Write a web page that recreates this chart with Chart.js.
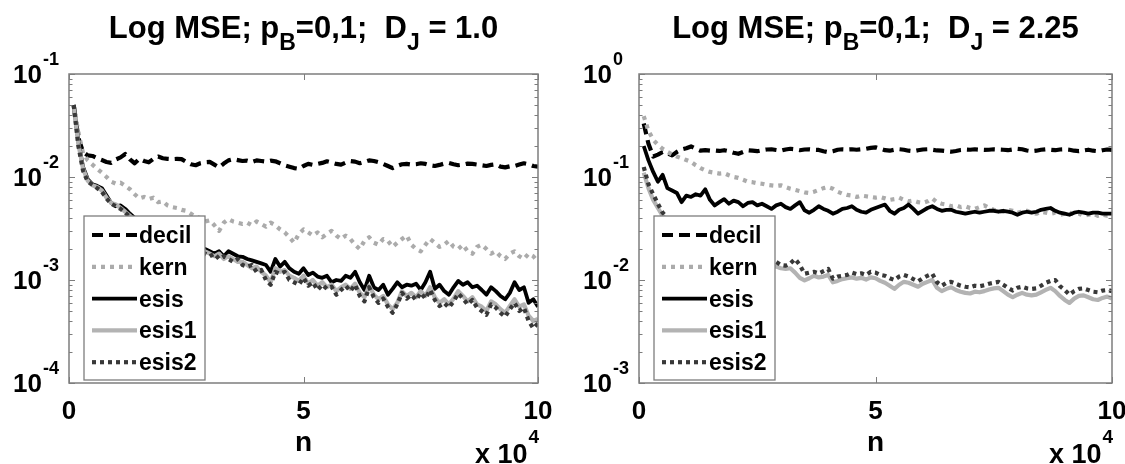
<!DOCTYPE html>
<html>
<head>
<meta charset="utf-8">
<script src="https://cdn.jsdelivr.net/npm/chart.js@4/dist/chart.umd.min.js"></script>
<style>
  html, body { margin: 0; padding: 0; background: #fff; overflow: hidden; }
  #wrap { position: relative; width: 1125px; height: 464px; }
  canvas { position: absolute; top: 0; }
  #left { left: 0; }
  #right { left: 562px; }
</style>
</head>
<body>
<div id="wrap">
  <canvas id="left" width="562" height="464"></canvas>
  <canvas id="right" width="563" height="464"></canvas>
</div>
<script>
// sample sizes n, in units of 10^4
const nGrid = [
  0.1, 0.2, 0.3, 0.4, 0.5, 0.6, 0.7, 0.8, 0.9, 1.0,
  1.1, 1.2, 1.3, 1.4, 1.5, 1.6, 1.7, 1.8, 1.9, 2.0,
  2.1, 2.2, 2.3, 2.4, 2.5, 2.6, 2.7, 2.8, 2.9, 3.0,
  3.1, 3.2, 3.3, 3.4, 3.5, 3.6, 3.7, 3.8, 3.9, 4.0,
  4.1, 4.2, 4.3, 4.4, 4.5, 4.6, 4.7, 4.8, 4.9, 5.0,
  5.1, 5.2, 5.3, 5.4, 5.5, 5.6, 5.7, 5.8, 5.9, 6.0,
  6.1, 6.2, 6.3, 6.4, 6.5, 6.6, 6.7, 6.8, 6.9, 7.0,
  7.1, 7.2, 7.3, 7.4, 7.5, 7.6, 7.7, 7.8, 7.9, 8.0,
  8.1, 8.2, 8.3, 8.4, 8.5, 8.6, 8.7, 8.8, 8.9, 9.0,
  9.1, 9.2, 9.3, 9.4, 9.5, 9.6, 9.7, 9.8, 9.9, 10.0
];

const seriesNames = ['decil', 'kern', 'esis', 'esis1', 'esis2'];

// ---- MSE, D_J = 1.0 ----
const decilA = [
  0.050, 0.024, 0.0175, 0.0162, 0.0160, 0.0152, 0.0146, 0.0140, 0.0137, 0.0148,
  0.0155, 0.0167, 0.0148, 0.0136, 0.0150, 0.0143, 0.0139, 0.0150, 0.0158, 0.0152,
  0.0150, 0.0149, 0.0150, 0.0149, 0.0140, 0.0133, 0.0130, 0.0136, 0.0139, 0.0140,
  0.0132, 0.0124, 0.0135, 0.0145, 0.0149, 0.0146, 0.0143, 0.0144, 0.0140, 0.0145,
  0.0143, 0.0141, 0.0144, 0.0142, 0.0136, 0.0130, 0.0126, 0.0122, 0.0120, 0.0128,
  0.0134, 0.0131, 0.0134, 0.0137, 0.0142, 0.0138, 0.0134, 0.0132, 0.0138, 0.0143,
  0.0141, 0.0136, 0.0140, 0.0145, 0.0143, 0.0139, 0.0134, 0.0128, 0.0122, 0.0128,
  0.0133, 0.0134, 0.0132, 0.0133, 0.0136, 0.0134, 0.0130, 0.0128, 0.0131, 0.0135,
  0.0137, 0.0133, 0.0130, 0.0132, 0.0135, 0.0134, 0.0132, 0.0130, 0.0128, 0.0131,
  0.0133, 0.0126, 0.0124, 0.0127, 0.0128, 0.0132, 0.0136, 0.0133, 0.0128, 0.0126
];
const kernA = [
  0.050, 0.027, 0.017, 0.0145, 0.0132, 0.0120, 0.0110, 0.0100, 0.0090, 0.0086,
  0.0088, 0.0082, 0.0076, 0.0068, 0.0062, 0.0064, 0.0061, 0.0063, 0.0057, 0.0058,
  0.0053, 0.0051, 0.0050, 0.0048, 0.0047, 0.0044, 0.0041, 0.0040, 0.0037, 0.0038,
  0.0034, 0.0030, 0.0036, 0.0039, 0.0037, 0.0036, 0.0035, 0.0036, 0.0034, 0.0037,
  0.0035, 0.0033, 0.0036, 0.0034, 0.0031, 0.0029, 0.0026, 0.0023, 0.0028, 0.0031,
  0.0029, 0.0027, 0.0029, 0.0026, 0.0028, 0.0030, 0.0027, 0.0025, 0.0027, 0.0025,
  0.0022, 0.0020, 0.0024, 0.0026, 0.0023, 0.0022, 0.0025, 0.0024, 0.0021, 0.0023,
  0.0025, 0.0027, 0.0022, 0.0020, 0.0019, 0.0022, 0.0025, 0.0023, 0.0021, 0.0022,
  0.0024, 0.0021, 0.0020, 0.0022, 0.0019, 0.0018, 0.0021, 0.0022, 0.0020, 0.0018,
  0.0019, 0.0017, 0.0016, 0.0018, 0.0019, 0.0017, 0.0016, 0.0018, 0.0017, 0.0015
];
const esisA = [
  0.050, 0.022, 0.0125, 0.0095, 0.0085, 0.0082, 0.0078, 0.0066, 0.0056, 0.0052,
  0.0053, 0.0049, 0.0044, 0.0040, 0.0037, 0.0035, 0.0033, 0.0031, 0.0030, 0.0028,
  0.0027, 0.0026, 0.0025, 0.0024, 0.0023, 0.0022, 0.0021, 0.0021, 0.0020, 0.0019,
  0.0018, 0.0019, 0.0017, 0.0019, 0.0018, 0.0017, 0.00168, 0.0016, 0.00155, 0.0015,
  0.00145, 0.0014, 0.0012, 0.0016, 0.00135, 0.0015, 0.0013, 0.0012, 0.00115, 0.0013,
  0.00112, 0.00118, 0.00108, 0.00105, 0.0011, 0.00095, 0.0010, 0.00098, 0.0011, 0.00105,
  0.0012, 0.00095, 0.0008, 0.0011, 0.00085, 0.0008, 0.0009, 0.00072, 0.00082, 0.00095,
  0.00085, 0.0009, 0.00088, 0.00092, 0.0008, 0.00095, 0.0012, 0.00082, 0.0009, 0.00078,
  0.00072, 0.00085, 0.00098, 0.0009, 0.00095, 0.00085, 0.00088, 0.0008, 0.00072, 0.00085,
  0.00078, 0.0007, 0.00065, 0.00075, 0.00095, 0.0008, 0.00085, 0.0006, 0.00065, 0.00055
];
const esis1A = [
  0.049, 0.021, 0.0120, 0.0092, 0.0083, 0.0080, 0.0074, 0.0063, 0.0056, 0.0054,
  0.0050, 0.0046, 0.0042, 0.0038, 0.0036, 0.0034, 0.0032, 0.0030, 0.0029, 0.0027,
  0.0026, 0.0025, 0.0024, 0.0023, 0.0022, 0.0021, 0.0020, 0.0020, 0.0019, 0.0018,
  0.0017, 0.0018, 0.0016, 0.0017, 0.0016, 0.0015, 0.0015, 0.0014, 0.0013, 0.00135,
  0.0012, 0.0011, 0.00095, 0.0013, 0.0012, 0.00125, 0.0011, 0.00105, 0.00098, 0.0011,
  0.00092, 0.0010, 0.00088, 0.00095, 0.00085, 0.0009, 0.00078, 0.00085, 0.0009, 0.00082,
  0.00092, 0.00075, 0.00068, 0.00088, 0.00072, 0.00065, 0.0007, 0.00058, 0.00052, 0.0006,
  0.00078, 0.0007, 0.00075, 0.00068, 0.00078, 0.0007, 0.00085, 0.00068, 0.0006, 0.00065,
  0.00058, 0.00066, 0.00078, 0.0007, 0.00062, 0.00068, 0.00058, 0.00055, 0.0005, 0.00062,
  0.00058, 0.00052, 0.00048, 0.00056, 0.00065, 0.00055, 0.00058, 0.00045, 0.0004, 0.00042
];
const esis2A = [
  0.050, 0.020, 0.0115, 0.0090, 0.0084, 0.0078, 0.0072, 0.0062, 0.0055, 0.0052,
  0.0049, 0.0045, 0.0041, 0.0037, 0.0035, 0.0033, 0.0031, 0.0029, 0.0028, 0.0026,
  0.0025, 0.0024, 0.0023, 0.0022, 0.0021, 0.0021, 0.0020, 0.0019, 0.0018, 0.0017,
  0.0018, 0.0016, 0.0017, 0.0016, 0.0015, 0.0016, 0.0014, 0.00135, 0.0014, 0.0012,
  0.00125, 0.0010, 0.0009, 0.0012, 0.00115, 0.0012, 0.0010, 0.00095, 0.0009, 0.00105,
  0.00088, 0.00095, 0.0008, 0.0009, 0.00082, 0.00086, 0.00072, 0.0008, 0.00088, 0.00078,
  0.0009, 0.0007, 0.00062, 0.00085, 0.00068, 0.0006, 0.00066, 0.00055, 0.00048, 0.00058,
  0.00075, 0.00066, 0.00072, 0.00064, 0.00075, 0.00066, 0.0008, 0.00064, 0.00056, 0.0006,
  0.00054, 0.00062, 0.00074, 0.00066, 0.00058, 0.00064, 0.00054, 0.0005, 0.00046, 0.00058,
  0.00054, 0.00048, 0.00044, 0.00052, 0.0006, 0.0005, 0.00054, 0.0004, 0.00034, 0.00038
];

// ---- MSE, D_J = 2.25 ----
const decilB = [
  0.33, 0.21, 0.158, 0.165, 0.175, 0.170, 0.162, 0.175, 0.185, 0.190,
  0.198, 0.188, 0.180, 0.182, 0.180, 0.181, 0.179, 0.182, 0.178, 0.172,
  0.168, 0.175, 0.182, 0.180, 0.178, 0.182, 0.185, 0.186, 0.183, 0.180,
  0.185, 0.188, 0.186, 0.182, 0.185, 0.186, 0.184, 0.183, 0.178, 0.174,
  0.178, 0.184, 0.186, 0.185, 0.186, 0.184, 0.186, 0.188, 0.192, 0.194,
  0.188, 0.182, 0.180, 0.184, 0.186, 0.184, 0.180, 0.178, 0.182, 0.185,
  0.186, 0.184, 0.181, 0.180, 0.178, 0.176, 0.179, 0.183, 0.185, 0.184,
  0.186, 0.184, 0.183, 0.184, 0.186, 0.185, 0.184, 0.182, 0.185, 0.188,
  0.186, 0.181, 0.178, 0.180, 0.184, 0.186, 0.184, 0.182, 0.185, 0.186,
  0.184, 0.180, 0.178, 0.181, 0.184, 0.180, 0.178, 0.182, 0.185, 0.183
];
const kernB = [
  0.39, 0.28, 0.23, 0.205, 0.188, 0.175, 0.166, 0.158, 0.152, 0.146,
  0.140, 0.130, 0.122, 0.116, 0.112, 0.110, 0.108, 0.109, 0.104, 0.100,
  0.098, 0.094, 0.090, 0.089, 0.087, 0.086, 0.084, 0.083, 0.082, 0.083,
  0.080, 0.077, 0.075, 0.073, 0.071, 0.070, 0.072, 0.075, 0.078, 0.080,
  0.077, 0.072, 0.069, 0.067, 0.066, 0.064, 0.066, 0.065, 0.064, 0.063,
  0.064, 0.062, 0.060, 0.061, 0.063, 0.060, 0.058, 0.059, 0.057, 0.056,
  0.058, 0.062, 0.057, 0.055, 0.054, 0.052, 0.053, 0.051, 0.052, 0.050,
  0.049, 0.051, 0.053, 0.050, 0.048, 0.047, 0.046, 0.048, 0.047, 0.045,
  0.046, 0.047, 0.045, 0.044, 0.046, 0.045, 0.044, 0.045, 0.043, 0.044,
  0.045, 0.043, 0.044, 0.042, 0.043, 0.044, 0.042, 0.043, 0.042, 0.042
];
const esisB = [
  0.20, 0.145, 0.112, 0.090, 0.105, 0.078, 0.074, 0.070, 0.057, 0.066,
  0.064, 0.068, 0.066, 0.076, 0.060, 0.053, 0.057, 0.061, 0.055, 0.059,
  0.057, 0.052, 0.056, 0.057, 0.053, 0.055, 0.052, 0.049, 0.053, 0.055,
  0.051, 0.049, 0.053, 0.057, 0.0475, 0.045, 0.048, 0.052, 0.049, 0.047,
  0.044, 0.046, 0.049, 0.050, 0.052, 0.048, 0.046, 0.045, 0.048, 0.050,
  0.052, 0.054, 0.047, 0.044, 0.048, 0.050, 0.054, 0.049, 0.044, 0.047,
  0.050, 0.052, 0.049, 0.047, 0.048, 0.048, 0.046, 0.045, 0.044, 0.045,
  0.046, 0.045, 0.046, 0.047, 0.047, 0.046, 0.047, 0.046, 0.045, 0.043,
  0.045, 0.046, 0.045, 0.046, 0.048, 0.049, 0.050, 0.047, 0.045, 0.044,
  0.043, 0.045, 0.046, 0.045, 0.044, 0.045, 0.045, 0.044, 0.044, 0.044
];
const esis1B = [
  0.11, 0.078, 0.060, 0.050, 0.042, 0.038, 0.034, 0.031, 0.029, 0.027,
  0.025, 0.024, 0.023, 0.022, 0.021, 0.020, 0.019, 0.0185, 0.018, 0.0175,
  0.017, 0.0165, 0.016, 0.0155, 0.015, 0.0145, 0.014, 0.0138, 0.0135, 0.0130,
  0.0128, 0.0130, 0.0118, 0.0105, 0.0099, 0.0104, 0.0110, 0.0106, 0.0108, 0.0112,
  0.0095, 0.0098, 0.0102, 0.0104, 0.0106, 0.0103, 0.0105, 0.0101, 0.0106, 0.0104,
  0.0098, 0.0094, 0.0088, 0.0082, 0.0090, 0.0096, 0.0094, 0.0090, 0.0086, 0.0092,
  0.0096, 0.0100, 0.0084, 0.0078, 0.0082, 0.0085, 0.0080, 0.0077, 0.0075, 0.0074,
  0.0077, 0.0076, 0.0078, 0.0081, 0.0083, 0.0084, 0.0078, 0.0072, 0.0068, 0.0072,
  0.0075, 0.0072, 0.0071, 0.0072, 0.0076, 0.0080, 0.0084, 0.0078, 0.0070, 0.0064,
  0.0060, 0.0066, 0.0070, 0.0071, 0.0068, 0.0065, 0.0064, 0.0067, 0.0069, 0.0066
];
const esis2B = [
  0.125, 0.085, 0.068, 0.055, 0.045, 0.040, 0.036, 0.033, 0.031, 0.029,
  0.027, 0.026, 0.025, 0.024, 0.023, 0.022, 0.021, 0.020, 0.0195, 0.019,
  0.0185, 0.018, 0.0175, 0.017, 0.0165, 0.016, 0.0158, 0.0155, 0.0150, 0.0140,
  0.0138, 0.0145, 0.0160, 0.0140, 0.0115, 0.0118, 0.0120, 0.0116, 0.0122, 0.0128,
  0.0103, 0.0108, 0.0110, 0.0112, 0.0118, 0.0114, 0.0116, 0.0112, 0.0120, 0.0118,
  0.0112, 0.0110, 0.0104, 0.0100, 0.0108, 0.0112, 0.0108, 0.0102, 0.0097, 0.0104,
  0.0110, 0.0115, 0.0095, 0.0088, 0.0094, 0.0096, 0.0092, 0.0088, 0.0086, 0.0085,
  0.0088, 0.0087, 0.0089, 0.0092, 0.0094, 0.0096, 0.0090, 0.0084, 0.0079, 0.0084,
  0.0086, 0.0083, 0.0082, 0.0083, 0.0088, 0.0094, 0.0098, 0.0100, 0.0087, 0.0080,
  0.0072, 0.0078, 0.0082, 0.0083, 0.0080, 0.0077, 0.0076, 0.0079, 0.0080, 0.0078
];

// axis ticks
const xTicks = [0, 5, 10];
const yTicksA = [1e-4, 1e-3, 1e-2, 1e-1];
const yTicksB = [1e-3, 1e-2, 1e-1, 1e0];

// ---- drawing ----
const FONT = '"Liberation Sans", Arial, Helvetica, sans-serif';
const AXIS_GRAY = '#7d7d7d';

const lineStyles = {
  decil: { color: '#000000', width: 4.2, dash: [11, 6] },
  kern:  { color: '#ababab', width: 4.2, dash: [4, 5] },
  esis:  { color: '#000000', width: 3.8, dash: [] },
  esis1: { color: '#b3b3b3', width: 4.2, dash: [] },
  esis2: { color: '#383838', width: 4.2, dash: [4, 4] }
};

// per-panel text and tick setup, keyed by canvas id
const panelInfo = {};

function drawRich(ctx, parts, cx, baseline) {
  const widths = parts.map(p => {
    ctx.font = 'bold ' + p.size + 'px ' + FONT;
    return ctx.measureText(p.text).width;
  });
  const total = widths.reduce((s, w) => s + w, 0);
  let x = cx - total / 2;
  ctx.textAlign = 'left';
  ctx.textBaseline = 'alphabetic';
  ctx.fillStyle = '#000';
  parts.forEach((p, i) => {
    ctx.font = 'bold ' + p.size + 'px ' + FONT;
    ctx.fillText(p.text, x, baseline + p.shift);
    x += widths[i];
  });
}

const figureDecor = {
  id: 'figureDecor',
  beforeDraw(chart) {
    const { ctx, width, height } = chart;
    ctx.save();
    ctx.fillStyle = '#ffffff';
    ctx.fillRect(0, 0, width, height);
    ctx.restore();
  },
  afterDatasetsDraw(chart) {
    const info = panelInfo[chart.canvas.id];
    const { ctx, chartArea: a, scales } = chart;
    const xs = scales.x, ys = scales.y;
    ctx.save();

    // inward ticks on all four sides
    ctx.strokeStyle = AXIS_GRAY;
    ctx.lineWidth = 1;
    ctx.beginPath();
    info.yTicks.forEach((dec, i) => {
      const last = i === info.yTicks.length - 1;
      for (let k = 1; k <= (last ? 1 : 9); k++) {
        const py = Math.round(ys.getPixelForValue(k * dec)) + 0.5;
        const len = k === 1 ? 6 : 3.5;
        ctx.moveTo(a.left, py); ctx.lineTo(a.left + len, py);
        ctx.moveTo(a.right, py); ctx.lineTo(a.right - len, py);
      }
    });
    xTicks.forEach(t => {
      const px = Math.round(xs.getPixelForValue(t)) + 0.5;
      ctx.moveTo(px, a.bottom); ctx.lineTo(px, a.bottom - 6);
      ctx.moveTo(px, a.top); ctx.lineTo(px, a.top + 6);
    });
    ctx.stroke();

    // axes box
    ctx.lineWidth = 1.5;
    ctx.strokeRect(a.left, a.top, a.right - a.left, a.bottom - a.top);

    // legend
    const bw = 121, bh = 164;
    const bx = a.left + 15, by = a.bottom - 3 - bh;
    ctx.fillStyle = '#ffffff';
    ctx.fillRect(bx, by, bw, bh);
    ctx.lineWidth = 1.3;
    ctx.strokeStyle = AXIS_GRAY;
    ctx.strokeRect(bx, by, bw, bh);
    chart.data.datasets.forEach((ds, i) => {
      const cy = by + 19 + i * 31.8;
      ctx.beginPath();
      ctx.setLineDash(ds.borderDash || []);
      ctx.lineCap = 'butt';
      ctx.lineWidth = ds.borderWidth;
      ctx.strokeStyle = ds.borderColor;
      ctx.moveTo(bx + 8, cy);
      ctx.lineTo(bx + 53, cy);
      ctx.stroke();
      ctx.setLineDash([]);
      ctx.fillStyle = '#000';
      ctx.font = 'bold 23px ' + FONT;
      ctx.textAlign = 'left';
      ctx.textBaseline = 'alphabetic';
      ctx.fillText(ds.label, bx + 55, cy + 8);
    });

    // y tick labels 10^k
    ctx.fillStyle = '#000';
    ctx.textAlign = 'left';
    ctx.textBaseline = 'alphabetic';
    info.yTicks.forEach(v => {
      const py = ys.getPixelForValue(v);
      const e = Math.round(Math.log10(v));
      const lx = a.left - 56;
      ctx.font = 'bold 26px ' + FONT;
      ctx.fillText('10', lx, py + 9);
      const w = ctx.measureText('10').width;
      ctx.font = 'bold 18px ' + FONT;
      ctx.fillText(String(e), lx + w + 1, py - 9);
    });

    // x tick labels
    ctx.textAlign = 'center';
    ctx.font = 'bold 26px ' + FONT;
    xTicks.forEach(t => {
      ctx.fillText(String(t), xs.getPixelForValue(t), a.bottom + 36);
    });

    // x label and scale factor
    ctx.font = 'bold 28px ' + FONT;
    ctx.fillText('n', (a.left + a.right) / 2, a.bottom + 68);
    ctx.textAlign = 'right';
    ctx.font = 'bold 19px ' + FONT;
    ctx.fillText('4', a.right + 1, a.bottom + 60);
    const w4 = ctx.measureText('4').width;
    ctx.font = 'bold 27px ' + FONT;
    ctx.fillText('x 10', a.right - w4, a.bottom + 80);

    // title
    drawRich(ctx, info.title, (a.left + a.right) / 2, 38);
    ctx.restore();
  }
};

function buildDatasets(valueLists) {
  return valueLists.map((vals, i) => {
    const name = seriesNames[i];
    const st = lineStyles[name];
    return {
      label: name,
      data: nGrid.map((x, k) => ({ x: x, y: vals[k] })),
      borderColor: st.color,
      borderWidth: st.width,
      borderDash: st.dash,
      borderCapStyle: 'butt',
      borderJoinStyle: 'round',
      pointRadius: 0,
      tension: 0,
      fill: false,
      order: valueLists.length - i
    };
  });
}

function makePanel(id, valueLists, yTicks, title, padding) {
  panelInfo[id] = { yTicks: yTicks, title: title };
  return new Chart(document.getElementById(id), {
    type: 'line',
    data: { datasets: buildDatasets(valueLists) },
    options: {
      responsive: false,
      animation: false,
      devicePixelRatio: 1,
      events: [],
      layout: { padding: padding },
      scales: {
        x: { type: 'linear', min: xTicks[0], max: xTicks[xTicks.length - 1], display: false },
        y: { type: 'logarithmic', min: yTicks[0], max: yTicks[yTicks.length - 1], display: false }
      },
      plugins: {
        legend: { display: false },
        tooltip: { enabled: false }
      }
    },
    plugins: [figureDecor]
  });
}

function titleParts(dj) {
  return [
    { text: 'Log MSE; p', size: 31, shift: 0 },
    { text: 'B', size: 23, shift: 12 },
    { text: '=0,1;  D', size: 31, shift: 0 },
    { text: 'J', size: 23, shift: 12 },
    { text: ' = ' + dj, size: 31, shift: 0 }
  ];
}

makePanel('left', [decilA, kernA, esisA, esis1A, esis2A], yTicksA,
  titleParts('1.0'), { left: 69, right: 24, top: 74, bottom: 81 });
makePanel('right', [decilB, kernB, esisB, esis1B, esis2B], yTicksB,
  titleParts('2.25'), { left: 77, right: 13, top: 74, bottom: 81 });
</script>
</body>
</html>
